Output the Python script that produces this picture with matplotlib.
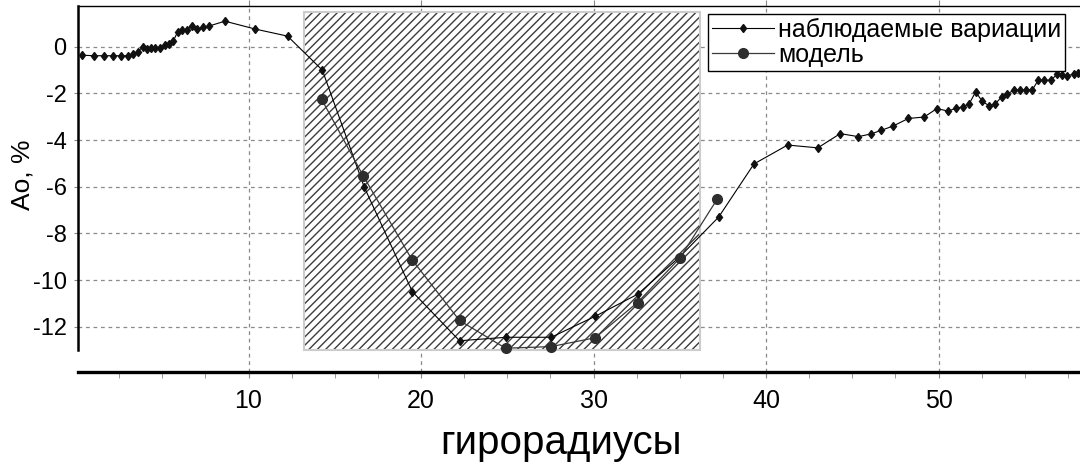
import matplotlib
matplotlib.use('Agg')
import matplotlib.pyplot as plt
from matplotlib.patches import Rectangle
from matplotlib.ticker import MultipleLocator

plt.rcParams['font.family'] = ['Liberation Sans', 'DejaVu Sans']
plt.rcParams['axes.unicode_minus'] = False
plt.rcParams['hatch.linewidth'] = 1.0

# observed variations (small diamonds)
x_obs = [0.36, 1.06, 1.62, 2.12, 2.6, 3.03, 3.32, 3.57, 3.86, 4.09, 4.34,
         4.57, 4.86, 5.15, 5.4, 5.63, 5.89, 6.15, 6.44, 6.73, 7.02,
         7.37, 7.70, 8.63, 10.4, 12.26, 14.28, 16.7, 19.5, 22.23, 24.94,
         27.55, 30.1, 32.57, 35.0, 37.25, 39.3, 41.25, 43.0, 44.3, 45.35,
         46.1, 46.67, 47.35, 48.25, 49.16, 49.9, 50.55, 51.0, 51.4, 51.77,
         52.15, 52.54, 52.92, 53.27, 53.66, 53.98, 54.37, 54.7, 55.05, 55.43,
         55.78, 56.11, 56.5, 56.88, 57.17, 57.46, 57.85, 58.1]
y_obs = [-0.36, -0.38, -0.38, -0.38, -0.38, -0.38, -0.3, -0.22, 0.0, -0.11, -0.04,
         -0.03, -0.03, 0.1, 0.11, 0.24, 0.64, 0.71, 0.74, 0.89, 0.76,
         0.83, 0.89, 1.1, 0.76, 0.46, -1.0, -6.0, -10.5, -12.6, -12.45,
         -12.45, -11.55, -10.6, -9.0, -7.3, -5.02, -4.21, -4.33, -3.72, -3.85,
         -3.73, -3.58, -3.4, -3.07, -3.01, -2.65, -2.75, -2.64, -2.57, -2.45,
         -1.93, -2.34, -2.52, -2.46, -2.14, -2.03, -1.85, -1.85, -1.85, -1.85,
         -1.43, -1.43, -1.43, -1.18, -1.21, -1.23, -1.18, -1.1]

# model (large circles)
x_mod = [14.23, 16.64, 19.48, 22.23, 24.9, 27.55, 30.1, 32.55, 35.0, 37.16]
y_mod = [-2.24, -5.52, -9.13, -11.73, -12.92, -12.85, -12.47, -10.96, -9.06, -6.54]

# hatched region (x range, y range)
region_x = (13.2, 36.2)
region_y = (-13.0, 1.5)

fig = plt.figure(figsize=(10.8, 4.63), dpi=100)
ax = fig.add_axes([0.072, 0.196, 0.928, 0.791])

# hatch takes the edge colour, so the hatch and the light border are two patches
rx, ry = region_x[0], region_y[0]
rw, rh = region_x[1] - region_x[0], region_y[1] - region_y[0]
ax.add_patch(Rectangle((rx, ry), rw, rh, facecolor='white', edgecolor='#3c3c3c',
                       lw=0, hatch='////', zorder=1.5))
ax.add_patch(Rectangle((rx, ry), rw, rh, facecolor='none', edgecolor='#cccccc',
                       lw=1.5, zorder=1.6))

ax.plot(x_obs, y_obs, color='black', lw=0.8, marker='d', ms=4.5,
        mfc='#111111', mec='#111111', zorder=3, label='наблюдаемые вариации')
ax.plot(x_mod, y_mod, color='#3a3a3a', lw=0.9, marker='o', ms=7,
        mfc='#2e2e2e', mec='#2e2e2e', zorder=3, label='модель')

ax.set_xlim(0.1, 58.2)
ax.set_ylim(-13.95, 1.75)
ax.xaxis.set_major_locator(MultipleLocator(10))
ax.xaxis.set_minor_locator(MultipleLocator(2.5))
ax.yaxis.set_major_locator(MultipleLocator(2))

ax.grid(True, which='major', ls=(0, (3, 3)), color='#8a8a8a', lw=0.9, zorder=0)
ax.set_axisbelow(True)

ax.spines['right'].set_visible(False)
ax.spines['top'].set_linewidth(1.0)
ax.spines['left'].set_linewidth(1.8)
ax.spines['bottom'].set_linewidth(2.4)
ax.spines['left'].set_bounds(-13.0, 1.75)

ax.tick_params(axis='x', which='major', labelsize=18, length=4, color='#888888',
               pad=8, top=True)
ax.tick_params(axis='x', which='minor', length=4, color='#888888')
ax.tick_params(axis='y', which='major', labelsize=17, length=3, color='#888888',
               pad=5)

ax.set_xlabel('гирорадиусы', fontsize=29)
ax.xaxis.set_label_coords(0.482, -0.142)
ax.set_ylabel('Ao, %', fontsize=19)
ax.yaxis.set_label_coords(-0.043, 0.54)

leg = ax.legend(loc='upper left', bbox_to_anchor=(0.629, 0.978), fontsize=18,
                frameon=True, fancybox=False, edgecolor='black', framealpha=1,
                handlelength=2.5, handletextpad=0.15, borderpad=0.15,
                labelspacing=0.05, borderaxespad=0)
leg.get_frame().set_linewidth(1.0)
leg.set_zorder(5)

fig.savefig('out.png', dpi=100)
